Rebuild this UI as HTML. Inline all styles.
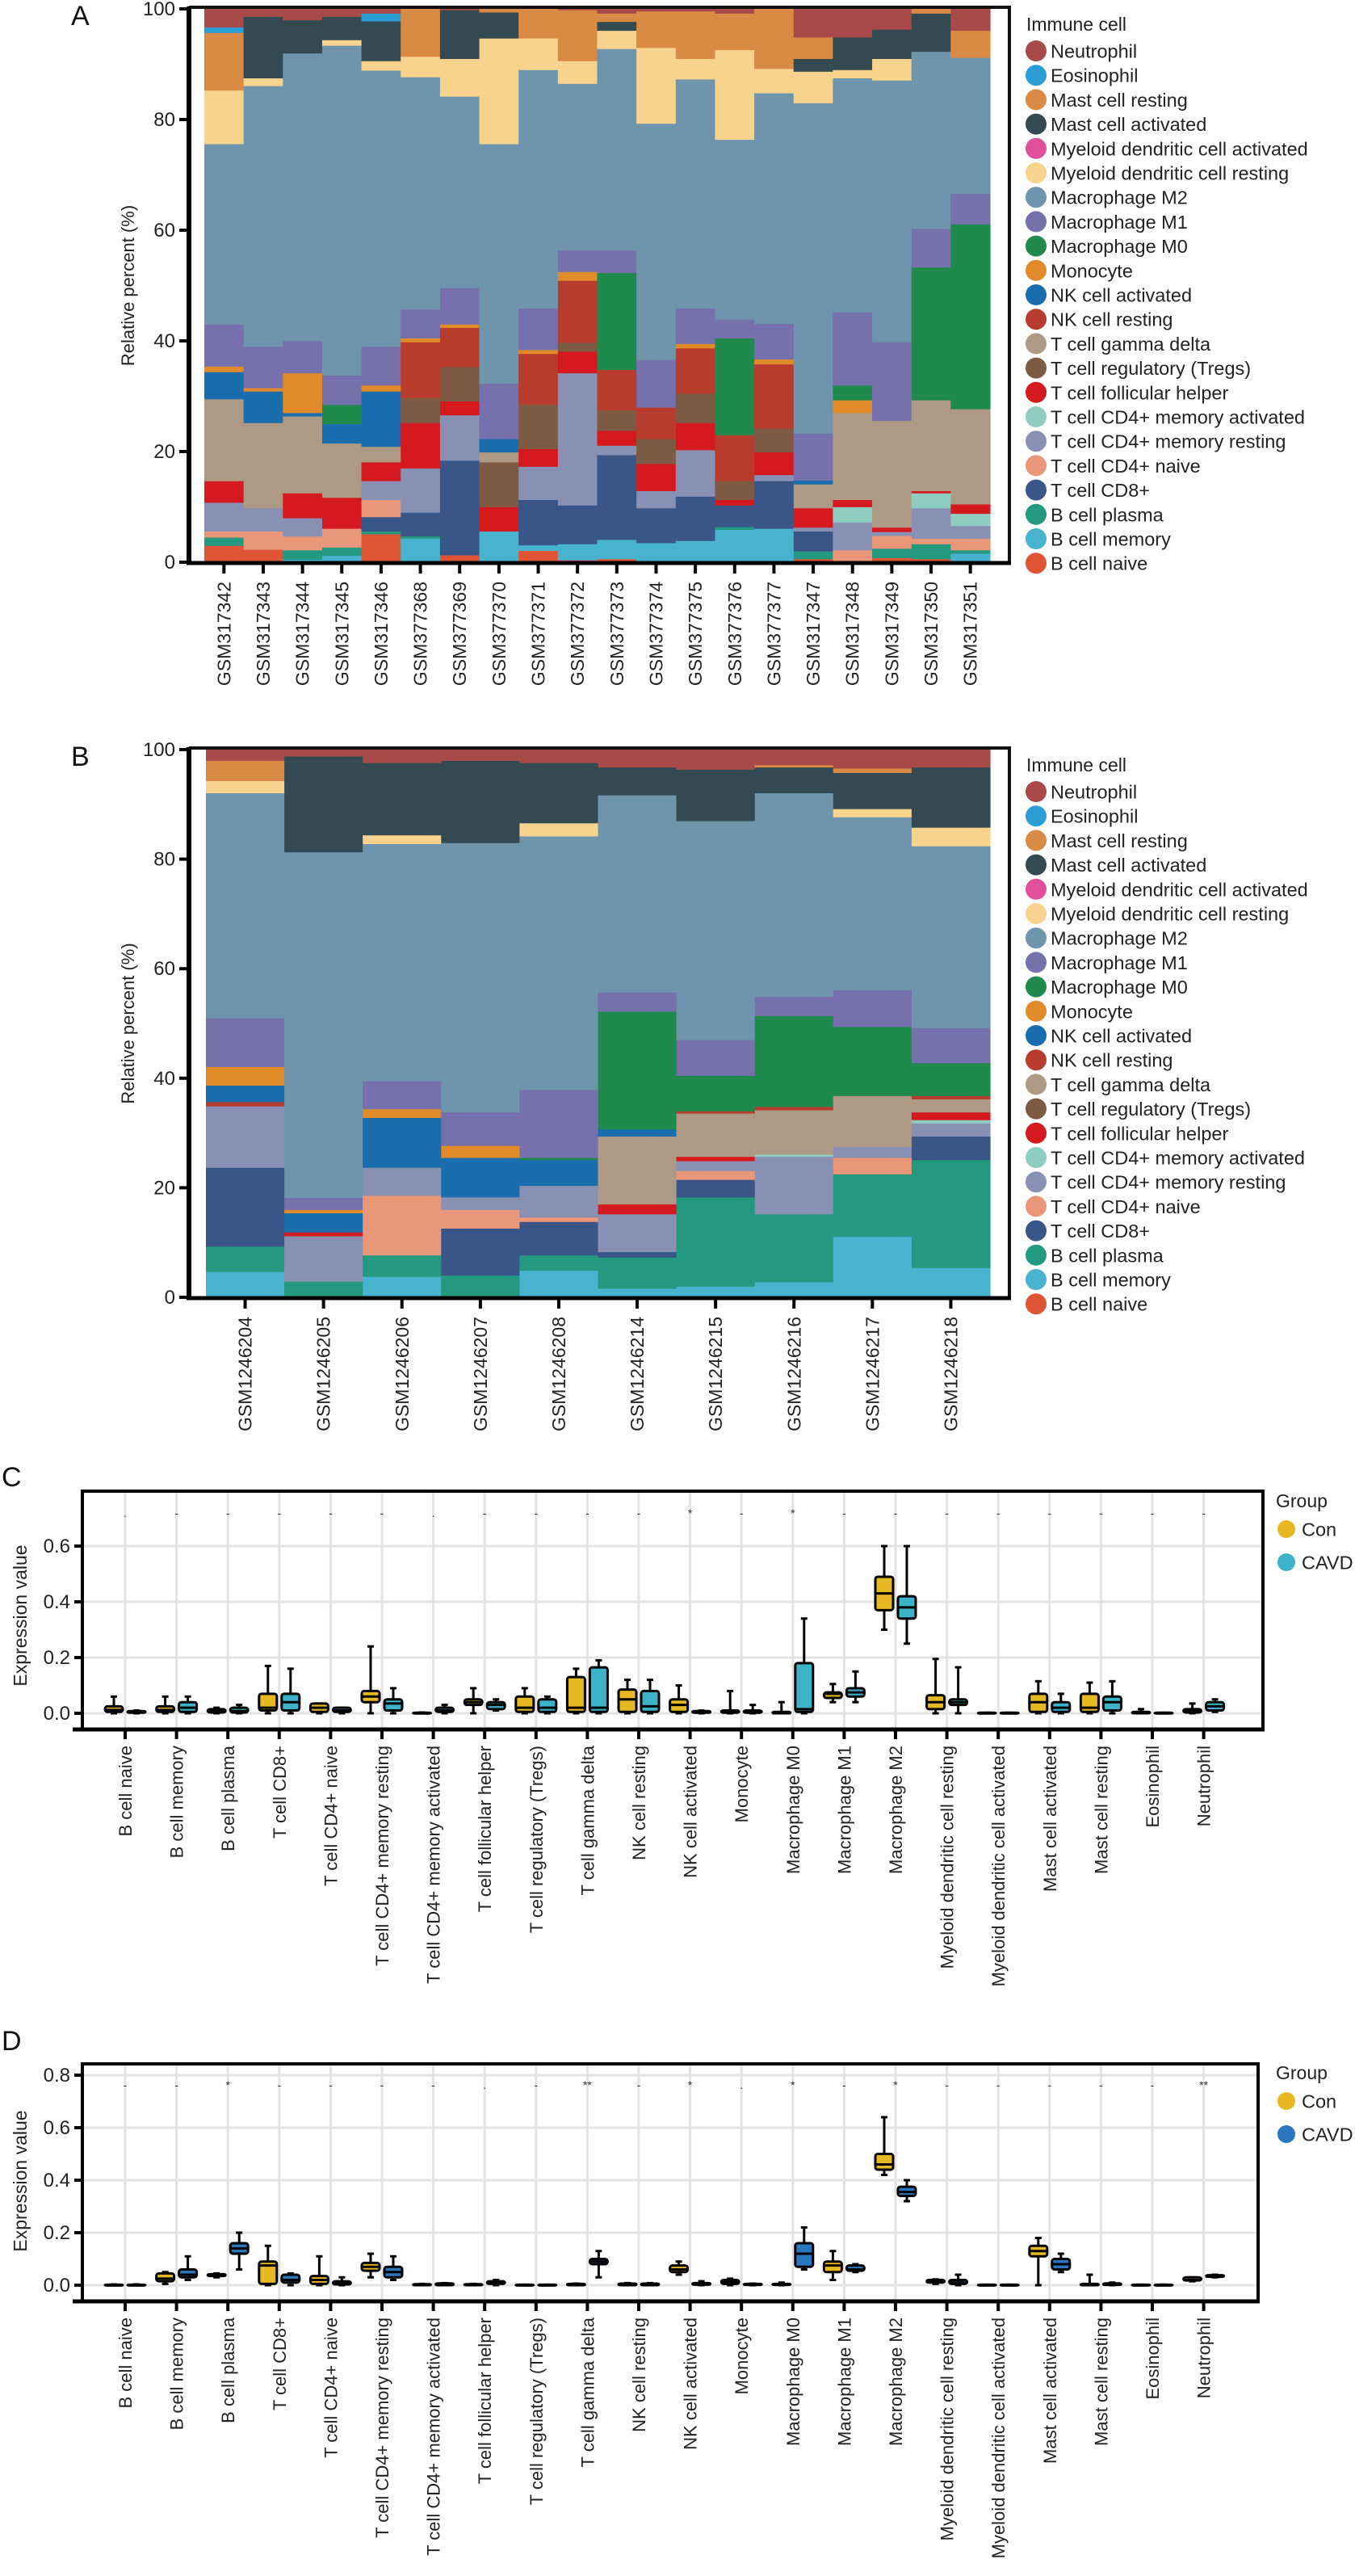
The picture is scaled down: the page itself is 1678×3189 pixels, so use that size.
<!DOCTYPE html>
<html><head><meta charset="utf-8"><title>Immune cell infiltration</title>
<style>
html,body{margin:0;padding:0;background:#fff;}
svg{display:block;font-family:"Liberation Sans",Arial,sans-serif;}
</style></head>
<body>
<svg id="fig" xmlns="http://www.w3.org/2000/svg" width="1678" height="3189" viewBox="0 0 1678 3189"></svg>
<script>
// ---------- Shared categories ----------
const cellTypes = ["B cell naive","B cell memory","B cell plasma","T cell CD8+","T cell CD4+ naive","T cell CD4+ memory resting","T cell CD4+ memory activated","T cell follicular helper","T cell regulatory (Tregs)","T cell gamma delta","NK cell resting","NK cell activated","Monocyte","Macrophage M0","Macrophage M1","Macrophage M2","Myeloid dendritic cell resting","Myeloid dendritic cell activated","Mast cell activated","Mast cell resting","Eosinophil","Neutrophil"];
const cellColors = ["#E05436","#48B3CE","#239A80","#3A5587","#EA9678","#8890B3","#8ECDBF","#D51A1F","#7D5A43","#AE9A84","#B83C2E","#1A6EAE","#E08A2A","#1F8A4C","#7670AD","#6E95AB","#F8D38E","#E0509A","#344A52","#D98B45","#2B9ED6","#A84A4A"];

// ---------- Panel A data ----------
const samplesA = ["GSM317342","GSM317343","GSM317344","GSM317345","GSM317346","GSM377368","GSM377369","GSM377370","GSM377371","GSM377372","GSM377373","GSM377374","GSM377375","GSM377376","GSM377377","GSM317347","GSM317348","GSM317349","GSM317350","GSM317351"];
const aBNaive  = [3,2.3,0,0,5.1,0,1.3,0,2.1,.4,.6,0,0,0,0,.6,.2,.8,.6,0];
const aBMemory = [0,0,.5,1.2,0,4.3,0,5.6,1,2.9,3.5,3.5,3.9,5.9,6.1,0,0,0,0,1.6];
const aBPlasma = [1.5,0,1.7,1.5,.5,.4,0,0,0,0,0,0,0,.5,0,1.4,0,1.7,2.7,.6];
const aCD8     = [0,0,0,0,2.6,4.3,17.1,0,8.2,7,15.3,6.3,8,3.9,8.6,3.6,0,0,0,0];
const aCD4Naive= [1.1,3.3,2.5,3.4,3.1,0,0,0,0,0,0,0,0,0,0,0,2,2.3,1,2.1];
const aCD4MemR = [5.2,4.2,3.3,0,3.4,8,8.2,0,6,23.9,1.7,3.1,8.4,0,1.1,.7,5,.7,5.5,2.3];
const aCD4MemA = [0,0,0,0,0,0,0,0,0,0,0,0,0,0,0,0,2.8,0,2.7,2.2];
const aTfh     = [3.9,0,4.5,5.6,3.4,8.2,2.5,4.4,3.2,3.9,2.7,4.9,4.9,1,4.1,3.5,1.3,.8,.4,1.7];
const aTreg    = [0,0,0,0,0,4.5,6.2,8.1,8,1.6,3.7,4.5,5.3,3.4,4.3,0,0,0,0,0];
const aGD      = [14.8,15.4,13.9,9.8,2.8,0,0,1.8,0,0,0,0,0,0,0,4.3,15.7,19.3,16.4,17.2];
const aNKR     = [0,0,0,0,0,10.1,7.1,0,9.2,11.2,7.3,5.7,8.2,8.3,11.6,0,0,0,0,0];
const aNKA     = [4.9,5.7,.6,3.5,10,0,0,2.4,0,0,0,0,0,0,0,.7,0,0,0,0];
const aMono    = [1,.6,7.2,0,1.1,.7,.6,0,.7,1.6,0,0,.8,0,.9,0,2.3,0,0,0];
const aM0      = [0,0,0,3.5,0,0,0,0,0,0,17.5,0,0,17.5,0,0,2.7,0,24,33.4];
const aM1      = [7.6,7.5,5.8,5.3,7,5.2,6.6,10,7.5,3.9,4.1,8.6,6.4,3.4,6.4,8.5,13.2,14.2,7,5.5];
const aM2      = [32.6,47.1,52,59.6,49.9,42,34.6,43.3,43.1,30.1,36.4,42.7,41.4,32.5,41.7,59.7,42.3,47.3,32,24.6];
const aMDCR    = [9.7,1.4,0,1,1.7,3.7,6.8,19.1,5.7,4.1,3.3,13.7,3.7,16.2,4.4,5.7,1.5,3.9,0,0];
const aMDCA    = [0,0,0,0,0,0,0,0,0,0,0,0,0,0,0,0,0,0,0,0];
const aMastA   = [0,11.1,6,4.2,7.2,0,8.8,4.7,0,0,1.6,0,0,0,0,2.3,5.9,5.3,6.9,0];
const aMastR   = [10.4,0,0,0,0,8.6,0,.6,5.3,9.2,1.5,6.6,8.6,6.6,10.8,3.9,0,0,.8,4.9];
const aEos     = [1,0,0,0,1.4,0,0,0,0,0,0,0,0,0,0,0,0,0,0,0];
const aNeut    = [3.3,1.4,2,1.4,.8,0,.2,0,0,.2,.8,.4,.4,.8,0,5.1,5.1,3.7,0,3.9];
const seriesA = [aBNaive,aBMemory,aBPlasma,aCD8,aCD4Naive,aCD4MemR,aCD4MemA,aTfh,aTreg,aGD,aNKR,aNKA,aMono,aM0,aM1,aM2,aMDCR,aMDCA,aMastA,aMastR,aEos,aNeut];

// ---------- Panel B data ----------
const samplesB = ["GSM1246204","GSM1246205","GSM1246206","GSM1246207","GSM1246208","GSM1246214","GSM1246215","GSM1246216","GSM1246217","GSM1246218"];
const bBNaive  = [0,0,0,0,0,0,0,0,0,0];
const bBMemory = [4.7,0,3.8,0,4.9,1.6,2,2.8,11.1,5.4];
const bBPlasma = [4.6,2.9,3.9,4,2.8,5.7,16.3,12.4,11.4,19.7];
const bCD8     = [14.4,0,0,8.6,6.1,1,3.2,0,0,4.3];
const bCD4Naive= [0,0,10.9,3.4,.8,0,1.6,0,3,0];
const bCD4MemR = [11.2,8.3,5.1,2.3,5.8,6.9,1.8,10.5,2,2.4];
const bCD4MemA = [0,0,0,0,0,0,0,.4,0,.6];
const bTfh     = [0,.7,0,0,0,1.8,.8,0,0,1.4];
const bTreg    = [0,0,0,0,0,0,0,0,0,0];
const bGD      = [0,0,0,0,0,12.4,7.9,8.1,9.3,2.4];
const bNKR     = [.8,0,0,0,0,0,.4,.6,0,.6];
const bNKA     = [3,3.5,9.1,7.2,4.7,1.3,0,0,0,0];
const bMono    = [3.4,.6,1.6,2.2,0,0,0,0,0,0];
const bM0      = [0,0,0,0,.4,21.5,6.5,16.6,12.6,6];
const bM1      = [8.9,2.2,5.1,6.1,12.4,3.5,6.5,3.5,6.7,6.4];
const bM2      = [41.1,63.1,43.3,49.2,46.3,36,40,37.2,31.6,33.2];
const bMDCR    = [2.2,0,1.6,0,2.4,0,0,0,1.5,3.4];
const bMDCA    = [0,0,0,0,0,0,0,0,0,0];
const bMastA   = [0,17.5,13.2,15,11,5.1,9.4,4.7,6.6,11];
const bMastR   = [3.7,0,0,0,0,0,0,.4,.8,0];
const bEos     = [0,0,0,0,0,0,0,0,0,0];
const bNeut    = [2,1.2,2.4,2,2.4,3.2,3.6,2.8,3.4,3.2];
const seriesB = [bBNaive,bBMemory,bBPlasma,bCD8,bCD4Naive,bCD4MemR,bCD4MemA,bTfh,bTreg,bGD,bNKR,bNKA,bMono,bM0,bM1,bM2,bMDCR,bMDCA,bMastA,bMastR,bEos,bNeut];
const stackTicks = [0,20,40,60,80,100];

// ---------- Panel C data (box stats per cell type) ----------
const cConLo  = [0,0,0,0,0,0,0,0,0,0,0,0,0,0,.04,.3,0,0,0,0,0,0];
const cConQ1  = [.005,.005,.003,.01,.005,.04,0,.03,.005,.005,.005,.005,.002,0,.055,.37,.015,0,.005,.005,0,.003];
const cConMed = [.012,.012,.008,.02,.02,.06,0,.04,.02,.02,.05,.03,.005,0,.07,.43,.04,0,.04,.02,.002,.008];
const cConQ3  = [.025,.025,.015,.07,.035,.08,.002,.05,.06,.13,.085,.05,.01,.005,.075,.49,.065,.002,.07,.07,.005,.015];
const cConHi  = [.06,.06,.02,.17,.035,.24,.003,.09,.09,.16,.12,.1,.08,.04,.105,.6,.195,.002,.115,.11,.015,.035];
const cCavLo  = [0,0,0,0,0,0,0,.01,0,0,0,0,0,0,.04,.25,0,0,0,0,0,.005];
const cCavQ1  = [.002,.005,.003,.01,.005,.01,.005,.015,.005,.005,.005,.002,.002,.005,.06,.34,.03,0,.005,.01,0,.01];
const cCavMed = [.004,.02,.008,.04,.01,.035,.01,.03,.02,.02,.025,.005,.004,.015,.075,.38,.04,0,.02,.04,0,.025];
const cCavQ3  = [.008,.04,.02,.07,.02,.05,.02,.04,.05,.165,.08,.008,.01,.18,.09,.42,.05,.002,.04,.06,.002,.04];
const cCavHi  = [.01,.06,.03,.16,.02,.09,.03,.05,.06,.19,.12,.01,.03,.34,.15,.6,.165,.002,.07,.115,.002,.05];
const cSig    = [".","-","-","-","-","-",".","-","-","-","-","*","-","*","-","-","-","-","-","-","-","-"];
const cTicks  = [0,0.2,0.4,0.6];

// ---------- Panel D data ----------
const dConLo  = [0,.005,.03,0,0,.03,0,0,0,0,0,.04,0,0,.02,.42,.005,0,0,0,0,.015];
const dConQ1  = [0,.015,.035,.005,.005,.055,0,0,0,0,0,.05,.005,.001,.05,.44,.01,0,.11,0,0,.018];
const dConMed = [.001,.025,.038,.075,.02,.07,.002,.002,0,.002,.004,.06,.012,.003,.075,.46,.015,0,.13,.003,.001,.02];
const dConQ3  = [.002,.045,.042,.09,.035,.085,.004,.004,.002,.005,.006,.075,.02,.005,.09,.5,.02,.002,.15,.005,.002,.03];
const dConHi  = [.003,.05,.045,.15,.11,.12,.005,.005,.002,.006,.008,.09,.025,.01,.13,.64,.022,.002,.18,.04,.002,.03];
const dCavLo  = [0,.02,.06,0,0,.02,0,0,0,.03,0,0,0,.06,.05,.32,0,0,.05,0,0,.03];
const dCavQ1  = [0,.03,.12,.01,.003,.03,0,.005,0,.08,0,.002,.001,.07,.055,.34,.005,0,.06,.001,0,.032];
const dCavMed = [.001,.04,.14,.02,.01,.05,.004,.01,0,.09,.004,.004,.003,.12,.06,.355,.01,0,.08,.004,.001,.035];
const dCavQ3  = [.002,.06,.16,.04,.015,.07,.007,.015,.002,.1,.006,.008,.005,.16,.075,.375,.02,.002,.1,.007,.002,.038];
const dCavHi  = [.003,.11,.2,.045,.03,.11,.008,.02,.002,.13,.008,.015,.006,.22,.08,.4,.04,.002,.12,.01,.002,.04];
const dSig    = ["-","-","*","-","-","-","-",".","-","**","-","*",".","*","-","*","-","-","-","-","-","**"];
const dTicks  = [0,0.2,0.4,0.6,0.8];

// ---------- helpers ----------
const NS = "http://www.w3.org/2000/svg";
const svg = document.getElementById("fig");
function mk(tag, attrs, parent){
  const el = document.createElementNS(NS, tag);
  for (const k in attrs) el.setAttribute(k, attrs[k]);
  (parent || svg).appendChild(el);
  return el;
}
function txt(s, attrs, parent){
  const el = mk("text", attrs, parent);
  el.textContent = s;
  return el;
}

// ---------- stacked bar panel ----------
function stackPanel(cfg){
  const g = mk("g", {});
  
  
  const n = cfg.samples.length;
  const bw = (cfg.x1 - cfg.x0) / n;
  const yScale = v => cfg.y0 - v / 100 * (cfg.y0 - cfg.y100);
  const xCenter = i => cfg.x0 + bw * (i + 0.5);
  // bars
  for (let i = 0; i < n; i++){
    let total = 0;
    for (let s = 0; s < cfg.series.length; s++) total += cfg.series[s][i];
    let cum = 0;
    for (let s = 0; s < cfg.series.length; s++){
      const v = cfg.series[s][i] / total * 100;
      if (v <= 0) continue;
      const yt = yScale(cum + v), yb = yScale(cum);
      const r = mk("rect", {x: (cfg.x0 + bw*i).toFixed(2), y: yt.toFixed(2), width: (bw+0.6).toFixed(2), height: (yb-yt+0.4).toFixed(2), fill: cellColors[s]}, g);
      
      
      cum += v;
    }
  }
  // frame
  const fr = mk("path", {d:`M${cfg.axX} ${cfg.top} H${cfg.right} V${cfg.y0+1}`, fill:"none", stroke:"#111", "stroke-width":4}, g);
  
  
  const ya = mk("line", {x1:cfg.axX, y1:cfg.top-1, x2:cfg.axX, y2:cfg.y0+3, stroke:"#000", "stroke-width":6}, g);
  
  
  const xa = mk("line", {x1:cfg.axX-3, y1:cfg.y0+1, x2:cfg.right+2, y2:cfg.y0+1, stroke:"#000", "stroke-width":5}, g);
  
  
  // y ticks
  for (const t of stackTicks){
    const y = yScale(t);
    const tk = mk("line", {x1:cfg.axX-12, y1:y, x2:cfg.axX, y2:y, stroke:"#000", "stroke-width":4}, g);
    
    
    const tl = txt(String(t), {x:cfg.axX-17, y:y+8, "text-anchor":"end", "font-size":24, fill:"#222"}, g);
    
    
  }
  const yl = txt("Relative percent (%)", {transform:`translate(${cfg.ylabX},${(cfg.y0+cfg.y100)/2}) rotate(-90)`, "text-anchor":"middle", "font-size":22, fill:"#222"}, g);
  
  
  // x ticks + labels
  for (let i = 0; i < n; i++){
    const x = xCenter(i);
    const tk = mk("line", {x1:x, y1:cfg.y0+2, x2:x, y2:cfg.y0+14, stroke:"#000", "stroke-width":4}, g);
    
    
    const lb = txt(cfg.samples[i], {transform:`translate(${x+8},${cfg.y0+24}) rotate(-90)`, "text-anchor":"end", "font-size":23, fill:"#222"}, g);
    
    
  }
  // panel letter
  const pl = txt(cfg.letter, {x:88, y:cfg.top+22, "font-size":34, fill:"#111"}, g);
  
  
  // legend
  const lg = mk("g", {}, g);
  
  
  const lt = txt("Immune cell", {x:1271, y:cfg.legY-25, "font-size":23, fill:"#222"}, lg);
  
  
  for (let k = 0; k < cellTypes.length; k++){
    const s = cellTypes.length - 1 - k;
    const y = cfg.legY + k * 30.2;
    const c = mk("circle", {cx:1283, cy:y, r:13, fill:cellColors[s]}, lg);
    
    
    const t = txt(cellTypes[s], {x:1301, y:y+8.5, "font-size":23.5, fill:"#222"}, lg);
    
    
  }
}

stackPanel({name:"panel-a-stacked-bar", letter:"A", samples:samplesA, series:seriesA, x0:253, x1:1226, y0:696, y100:11, top:9, axX:234, right:1250, ylabX:166, legY:63});
stackPanel({name:"panel-b-stacked-bar", letter:"B", samples:samplesB, series:seriesB, x0:255, x1:1226, y0:1606, y100:928, top:926, axX:234, right:1250, ylabX:166, legY:980});

// ---------- box plot panel ----------
function boxPanel(cfg){
  const g = mk("g", {});
  
  
  const yScale = v => cfg.yZero - v * cfg.pxPerUnit;
  const xCat = i => 155 + i * 63.6;
  // grid
  for (const t of cfg.ticks){
    const gl = mk("line", {x1:cfg.left, y1:yScale(t), x2:cfg.right, y2:yScale(t), stroke:"#e3e3e3", "stroke-width":3}, g);
    
    
  }
  for (let i = 0; i < cellTypes.length; i++){
    const gl = mk("line", {x1:xCat(i), y1:cfg.top, x2:xCat(i), y2:cfg.bottom, stroke:"#e3e3e3", "stroke-width":3}, g);
    
    
  }
  // boxes
  const groups = [
    {off:-14, color:cfg.conColor, lo:cfg.conLo, q1:cfg.conQ1, med:cfg.conMed, q3:cfg.conQ3, hi:cfg.conHi, nm:'box-con'},
    {off:14, color:cfg.cavColor, lo:cfg.cavLo, q1:cfg.cavQ1, med:cfg.cavMed, q3:cfg.cavQ3, hi:cfg.cavHi, nm:'box-cavd'}
  ];
  for (let i = 0; i < cellTypes.length; i++){
    for (const gr of groups){
      const x = xCat(i) + gr.off;
      const wl = mk("line", {x1:x, y1:yScale(gr.hi[i]), x2:x, y2:yScale(gr.lo[i]), stroke:"#000", "stroke-width":3}, g);
      
      
      for (const v of [gr.hi[i], gr.lo[i]]){
        const cp = mk("line", {x1:x-4, y1:yScale(v), x2:x+4, y2:yScale(v), stroke:"#000", "stroke-width":3}, g);
        
        
      }
      const yt = yScale(gr.q3[i]), yb = yScale(gr.q1[i]);
      const bx = mk("rect", {x:x-11, y:yt, width:22, height:Math.max(yb-yt,1), rx:3, fill:gr.color, stroke:"#000", "stroke-width":3}, g);
      
      
      const md = mk("line", {x1:x-11, y1:yScale(gr.med[i]), x2:x+11, y2:yScale(gr.med[i]), stroke:"#000", "stroke-width":3}, g);
      
      
    }
    const sg = txt(cfg.sig[i], {x:xCat(i), y:cfg.sigY, "text-anchor":"middle", "font-size":14, fill:"#333"}, g);
    
    
  }
  // frame
  const fr = mk("rect", {x:cfg.left, y:cfg.top, width:cfg.right-cfg.left, height:cfg.bottom-cfg.top, fill:"none", stroke:"#000", "stroke-width":4}, g);
  
  
  const xa = mk("line", {x1:cfg.left-12, y1:cfg.bottom, x2:cfg.right+2, y2:cfg.bottom, stroke:"#000", "stroke-width":5}, g);
  
  
  for (const t of cfg.ticks){
    const y = yScale(t);
    const tk = mk("line", {x1:cfg.left-10, y1:y, x2:cfg.left, y2:y, stroke:"#000", "stroke-width":4}, g);
    
    
    const tl = txt(t.toFixed(1), {x:cfg.left-15, y:y+8, "text-anchor":"end", "font-size":24, fill:"#222"}, g);
    
    
  }
  const yl = txt("Expression value", {transform:`translate(33,${cfg.ylabY}) rotate(-90)`, "text-anchor":"middle", "font-size":23, fill:"#222"}, g);
  
  
  for (let i = 0; i < cellTypes.length; i++){
    const x = xCat(i);
    const tk = mk("line", {x1:x, y1:cfg.bottom, x2:x, y2:cfg.bottom+12, stroke:"#000", "stroke-width":4}, g);
    
    
    const lb = txt(cellTypes[i], {transform:`translate(${x+8},${cfg.bottom+20}) rotate(-90)`, "text-anchor":"end", "font-size":22, fill:"#222"}, g);
    
    
  }
  const pl = txt(cfg.letter, {x:2, y:cfg.letterY, "font-size":34, fill:"#111"}, g);
  
  
  const lg = mk("g", {}, g);
  
  
  const lt = txt("Group", {x:1580, y:cfg.legY-27, "font-size":23, fill:"#222"}, lg);
  
  
  const labs = ["Con","CAVD"], cols = [cfg.conColor, cfg.cavColor];
  for (let k = 0; k < 2; k++){
    const y = cfg.legY + k * 41;
    const c = mk("circle", {cx:1593, cy:y, r:11, fill:cols[k]}, lg);
    
    
    const t = txt(labs[k], {x:1612, y:y+8.5, "font-size":23.5, fill:"#222"}, lg);
    
    
  }
}

boxPanel({name:"panel-c-boxplot", letter:"C", letterY:1840, top:1846, bottom:2141, left:102, right:1564, yZero:2121, pxPerUnit:345, ticks:cTicks, sig:cSig, sigY:1878, ylabY:2000, legY:1893,
  conColor:"#E6B822", cavColor:"#3DB3CA",
  conLo:cConLo, conQ1:cConQ1, conMed:cConMed, conQ3:cConQ3, conHi:cConHi,
  cavLo:cCavLo, cavQ1:cCavQ1, cavMed:cCavMed, cavQ3:cCavQ3, cavHi:cCavHi});
boxPanel({name:"panel-d-boxplot", letter:"D", letterY:2538, top:2555, bottom:2849, left:102, right:1558, yZero:2829, pxPerUnit:325, ticks:dTicks, sig:dSig, sigY:2586, ylabY:2700, legY:2601,
  conColor:"#E6B822", cavColor:"#2A77C0",
  conLo:dConLo, conQ1:dConQ1, conMed:dConMed, conQ3:dConQ3, conHi:dConHi,
  cavLo:dCavLo, cavQ1:dCavQ1, cavMed:dCavMed, cavQ3:dCavQ3, cavHi:dCavHi});
</script>
</body></html>
